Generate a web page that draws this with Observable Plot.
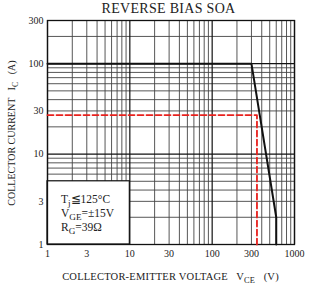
<!DOCTYPE html>
<html><head><meta charset="utf-8">
<script src="https://cdn.jsdelivr.net/npm/d3@7"></script>
<script src="https://cdn.jsdelivr.net/npm/@observablehq/plot@0.6"></script>
<style>body{margin:0;background:#fff}</style>
</head><body><div id="chart"></div>
<script>
const xTicks = [1, 3, 10, 30, 100, 300, 1000];
const yTicks = [1, 3, 5, 10, 30, 50, 100, 300];
const xGridMinor = [2, 3, 4, 5, 6, 7, 8, 9, 20, 30, 40, 50, 60, 70, 80, 90, 200, 300, 400, 500, 600, 700, 800, 900];
const xGridMajor = [1, 10, 100, 1000];
const yGridMinor = [2, 3, 4, 5, 6, 7, 8, 9, 20, 30, 40, 50, 60, 70, 80, 90, 200];
const yGridMajor = [1, 10, 100, 300];
const soaV = [1, 300, 600, 600];
const soaI = [100, 100, 2, 1];
const limV = [1, 350, 350];
const limI = [27, 27, 1];
const title = "REVERSE BIAS SOA";

const soa = soaV.map((v, i) => ({v, i: soaI[i]}));
const lim = limV.map((v, i) => ({v, i: limI[i]}));
const FONT = "Liberation Serif";

const plot = Plot.plot({
  width: 311, height: 286,
  marginLeft: 47, marginRight: 17, marginTop: 20, marginBottom: 42,
  style: {fontFamily: FONT, fontSize: "10px", color: "#222", background: "#fff"},
  x: {type: "log", domain: [1, 1000], ticks: xTicks, tickFormat: d => String(d), tickSize: 0, tickPadding: 5, label: null},
  y: {type: "log", domain: [1, 300], ticks: yTicks, tickFormat: d => String(d), tickSize: 0, tickPadding: 4, label: null},
  marks: [
    Plot.ruleX(xGridMinor, {stroke: "#444", strokeWidth: 0.9}),
    Plot.ruleY(yGridMinor, {stroke: "#444", strokeWidth: 0.9}),
    Plot.ruleX(xGridMajor, {stroke: "#111", strokeWidth: 1.2}),
    Plot.ruleY(yGridMajor, {stroke: "#111", strokeWidth: 1.2}),
    Plot.rect([{x1: 1, x2: 10, y1: 1, y2: 5}], {x1: "x1", x2: "x2", y1: "y1", y2: "y2", fill: "#fff", stroke: "#111", strokeWidth: 1.2}),
    Plot.frame({stroke: "#111", strokeWidth: 1.3}),
    Plot.line(lim, {x: "v", y: "i", stroke: "#e8201c", strokeWidth: 1.8, strokeDasharray: "6,3"}),
    Plot.line(soa, {x: "v", y: "i", stroke: "#111", strokeWidth: 2})
  ]
});
document.getElementById("chart").append(plot);

const svg = d3.select(plot);
const sx = plot.scale("x"), sy = plot.scale("y");
const cx = (sx.apply(1) + sx.apply(1000)) / 2;

function addText(x, y, parts, opts = {}) {
  const t = svg.append("text").attr("x", x).attr("y", y)
    .attr("font-family", FONT).attr("font-size", opts.size || 10).attr("fill", "#222")
    .attr("text-anchor", opts.anchor || "start");
  if (opts.rotate) t.attr("transform", `rotate(-90 ${x} ${y})`);
  if (opts.weight) t.attr("font-weight", opts.weight);
  if (opts.spacing) t.attr("letter-spacing", opts.spacing);
  for (const p of parts) {
    const s = t.append("tspan").text(p.t);
    if (p.sub) s.attr("font-size", (opts.size || 10) * 0.8).attr("dy", 3);
    if (p.up) s.attr("dy", -3);
  }
  return t;
}

addText(cx - 2, 13, [{t: title}], {size: 14, anchor: "middle", spacing: 0.3});
addText(cx, 280, [{t: "COLLECTOR-EMITTER VOLTAGE   V"}, {t: "CE", sub: true}, {t: "   (V)", up: true}], {size: 10.5, anchor: "middle", spacing: 0.2});
addText(15, 133, [{t: "COLLECTOR CURRENT   I"}, {t: "C", sub: true}, {t: "   (A)", up: true}], {size: 10, anchor: "middle", rotate: true});

const nx = sx.apply(1) + 14;
addText(nx, 203, [{t: "T"}, {t: "j", sub: true}, {t: "≦125°C", up: true}], {size: 11.5});
addText(nx, 217, [{t: "V"}, {t: "GE", sub: true}, {t: "=±15V", up: true}], {size: 11.5});
addText(nx, 231, [{t: "R"}, {t: "G", sub: true}, {t: "=39Ω", up: true}], {size: 11.5});
</script>
</body></html>
